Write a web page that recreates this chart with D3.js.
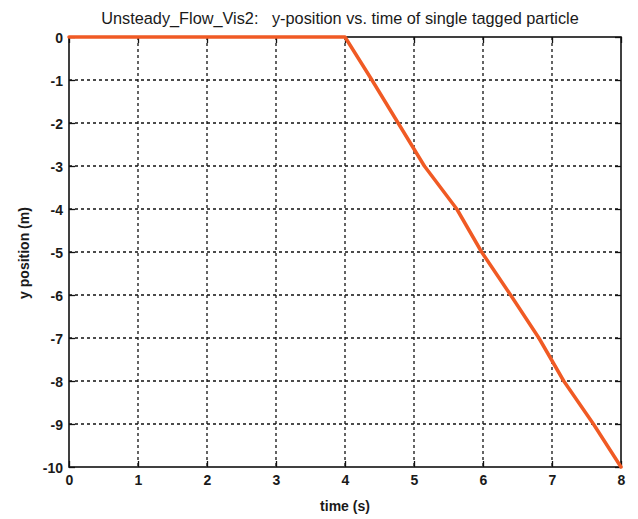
<!DOCTYPE html>
<html>
<head>
<meta charset="utf-8">
<script src="https://cdn.jsdelivr.net/npm/d3@7"></script>
<style>
  html, body { margin: 0; padding: 0; background: #fff; }
  svg { display: block; }
  text { font-family: "Liberation Sans", Arial, sans-serif; fill: #1a1a1a; }
</style>
</head>
<body>
<svg id="chart" width="638" height="519"></svg>
<script>
// Tagged particle track: time (s) and y position (m)
const timeValues = [0, 1, 2, 3, 4, 4.39, 4.77, 5.15, 5.62, 5.98, 6.40, 6.81, 7.17, 7.60, 8];
const yValues    = [0, 0, 0, 0, 0, -1, -2, -3, -4, -5, -6, -7, -8, -9, -10];
const xTicks = [0, 1, 2, 3, 4, 5, 6, 7, 8];
const yTicks = [0, -1, -2, -3, -4, -5, -6, -7, -8, -9, -10];

const svg = d3.select("#chart");
const m = { left: 69, right: 621, top: 37, bottom: 467 };

const x = d3.scaleLinear().domain([0, 8]).range([m.left, m.right]);
const y = d3.scaleLinear().domain([-10, 0]).range([m.bottom, m.top]);
const plain = d => String(d);

// dotted grid
const grid = svg.append("g").attr("stroke", "#111").attr("stroke-width", 1.3)
  .attr("stroke-dasharray", "3,3");
grid.selectAll("line.v").data(xTicks.slice(1, -1)).join("line")
  .attr("x1", d => x(d)).attr("x2", d => x(d))
  .attr("y1", m.top).attr("y2", m.bottom);
grid.selectAll("line.h").data(yTicks.slice(1, -1)).join("line")
  .attr("x1", m.left).attr("x2", m.right)
  .attr("y1", d => y(d)).attr("y2", d => y(d));

// axes with inward ticks
const tickLen = 6;
const xAxis = svg.append("g").attr("transform", `translate(0,${m.bottom})`)
  .call(d3.axisBottom(x).tickValues(xTicks).tickSizeInner(-tickLen).tickSizeOuter(0).tickPadding(8).tickFormat(plain));
const yAxis = svg.append("g").attr("transform", `translate(${m.left},0)`)
  .call(d3.axisLeft(y).tickValues(yTicks).tickSizeInner(-tickLen).tickSizeOuter(0).tickPadding(6).tickFormat(plain));
svg.append("g").attr("transform", `translate(0,${m.top})`)
  .call(d3.axisTop(x).tickValues(xTicks).tickSizeInner(-tickLen).tickSizeOuter(0).tickFormat(""));
svg.append("g").attr("transform", `translate(${m.right},0)`)
  .call(d3.axisRight(y).tickValues(yTicks).tickSizeInner(-tickLen).tickSizeOuter(0).tickFormat(""));

svg.selectAll(".domain").remove();
svg.selectAll(".tick line").attr("stroke", "#111").attr("stroke-width", 1.3);
[xAxis, yAxis].forEach(a => a.selectAll("text")
  .attr("font-size", 14).attr("font-weight", "bold").attr("fill", "#1a1a1a")
  .style("font-family", "'Liberation Sans', Arial, sans-serif"));
yAxis.selectAll("text").attr("dy", "0.36em");

// plot box
svg.append("rect").attr("x", m.left).attr("y", m.top)
  .attr("width", m.right - m.left).attr("height", m.bottom - m.top)
  .attr("fill", "none").attr("stroke", "#111").attr("stroke-width", 1.6);

// particle trajectory
svg.append("path")
  .datum(timeValues.map((t, i) => [t, yValues[i]]))
  .attr("fill", "none").attr("stroke", "#f05a24").attr("stroke-width", 3.5)
  .attr("stroke-linejoin", "round").attr("stroke-linecap", "round")
  .attr("d", d3.line().x(d => x(d[0])).y(d => y(d[1])));

// titles
svg.append("text").attr("x", 340).attr("y", 24).attr("text-anchor", "middle")
  .attr("font-size", 16.3)
  .text("Unsteady_Flow_Vis2:\u00a0\u00a0 y-position vs. time of single tagged particle");
svg.append("text").attr("x", 345).attr("y", 511).attr("text-anchor", "middle")
  .attr("font-size", 14).attr("font-weight", "bold").text("time (s)");
svg.append("text").attr("transform", "translate(29,253) rotate(-90)")
  .attr("text-anchor", "middle").attr("font-size", 14).attr("font-weight", "bold")
  .text("y position (m)");
</script>
</body>
</html>
